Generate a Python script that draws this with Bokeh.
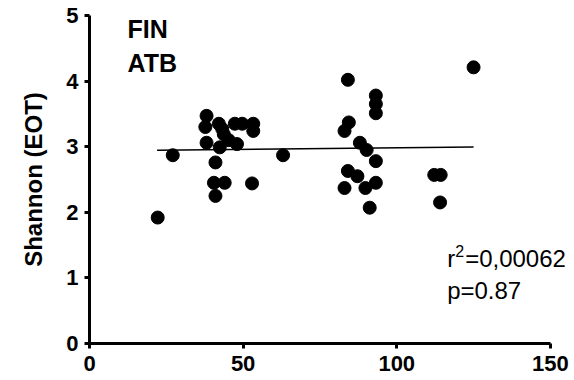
from bokeh.plotting import figure
from bokeh.models import Range1d, Label, FixedTicker
from bokeh.embed import file_html
from bokeh.resources import INLINE

# data
x_vals = [22.2, 27.1, 38.1, 37.7, 38.1, 42.1, 43.2, 43.7, 45.3, 48.0, 42.4, 47.3, 49.7,
          53.3, 53.3, 41.0, 40.5, 44.0, 41.0, 52.9, 63.0,
          84.1, 93.2, 93.2, 93.2, 84.4, 83.0, 88.0, 90.2, 93.2, 84.1, 87.2, 83.0, 89.8,
          93.2, 91.2, 112.2, 114.3, 114.1, 125.0]
y_vals = [1.92, 2.87, 3.47, 3.30, 3.06, 3.35, 3.27, 3.19, 3.10, 3.04, 2.99, 3.35, 3.35,
          3.35, 3.24, 2.76, 2.45, 2.45, 2.25, 2.44, 2.87,
          4.02, 3.78, 3.65, 3.51, 3.37, 3.24, 3.06, 2.95, 2.78, 2.63, 2.55, 2.37, 2.37,
          2.45, 2.07, 2.57, 2.57, 2.15, 4.21]
fit_x = [22.0, 125.0]
fit_y = [2.946, 2.997]
x_ticks = [0, 50, 100, 150]
y_ticks = [0, 1, 2, 3, 4, 5]
y_label = "Shannon (EOT)"
group_lines = ["FIN", "ATB"]
r2_parts = ["r", "2", "=0,00062"]
p_text = "p=0.87"

FONT = "Liberation Sans"

p = figure(width=574, height=380, output_backend="svg", toolbar_location=None,
           x_range=Range1d(0, 157.2), y_range=Range1d(0, 5),
           min_border_left=89, min_border_right=2, min_border_top=15, min_border_bottom=37)
p.outline_line_color = None
p.grid.visible = False
p.background_fill_color = "white"
p.border_fill_color = "white"

for ax in (p.xaxis[0], p.yaxis[0]):
    ax.axis_line_width = 3
    ax.axis_line_color = "black"
    ax.major_tick_line_width = 3
    ax.major_tick_line_color = "black"
    ax.major_tick_out = 5
    ax.major_tick_in = 0
    ax.minor_tick_line_color = None
    ax.major_label_text_font = FONT
    ax.major_label_text_font_style = "bold"
    ax.major_label_text_font_size = "22px"
    ax.major_label_text_color = "black"
p.xaxis.major_label_standoff = 7
p.yaxis.major_label_standoff = 6
p.xaxis.bounds = (x_ticks[0], x_ticks[-1])

p.xaxis.ticker = FixedTicker(ticks=x_ticks)
p.yaxis.ticker = FixedTicker(ticks=y_ticks)
p.yaxis.axis_label = y_label
p.yaxis.axis_label_text_font = FONT
p.yaxis.axis_label_text_font_style = "bold"
p.yaxis.axis_label_text_font_size = "24px"
p.yaxis.axis_label_text_color = "black"
p.yaxis.axis_label_standoff = 16

p.line(fit_x, fit_y, line_color="black", line_width=1.5)
p.scatter(x_vals, y_vals, size=13, color="black")

for i, t in enumerate(group_lines):
    p.add_layout(Label(x=12.4, y=4.79 - i * 0.51, text=t, text_font=FONT, text_font_style="bold",
                       text_font_size="25px", text_color="black",
                       text_baseline="middle", text_align="left"))

sx, sy = 116.4, 1.30
p.add_layout(Label(x=sx, y=sy, text=r2_parts[0], text_font=FONT, text_font_size="24px",
                   text_color="black", text_baseline="middle", text_align="left"))
p.add_layout(Label(x=sx, y=sy, x_offset=8, y_offset=7, text=r2_parts[1], text_font=FONT,
                   text_font_size="16px", text_color="black", text_baseline="middle",
                   text_align="left"))
p.add_layout(Label(x=sx, y=sy, x_offset=18, text=r2_parts[2], text_font=FONT,
                   text_font_size="24px", text_color="black", text_baseline="middle",
                   text_align="left"))
p.add_layout(Label(x=sx, y=sy - 0.49, text=p_text, text_font=FONT, text_font_size="24px",
                   text_color="black", text_baseline="middle", text_align="left"))

open("out.html", "w").write(file_html(p, INLINE))
